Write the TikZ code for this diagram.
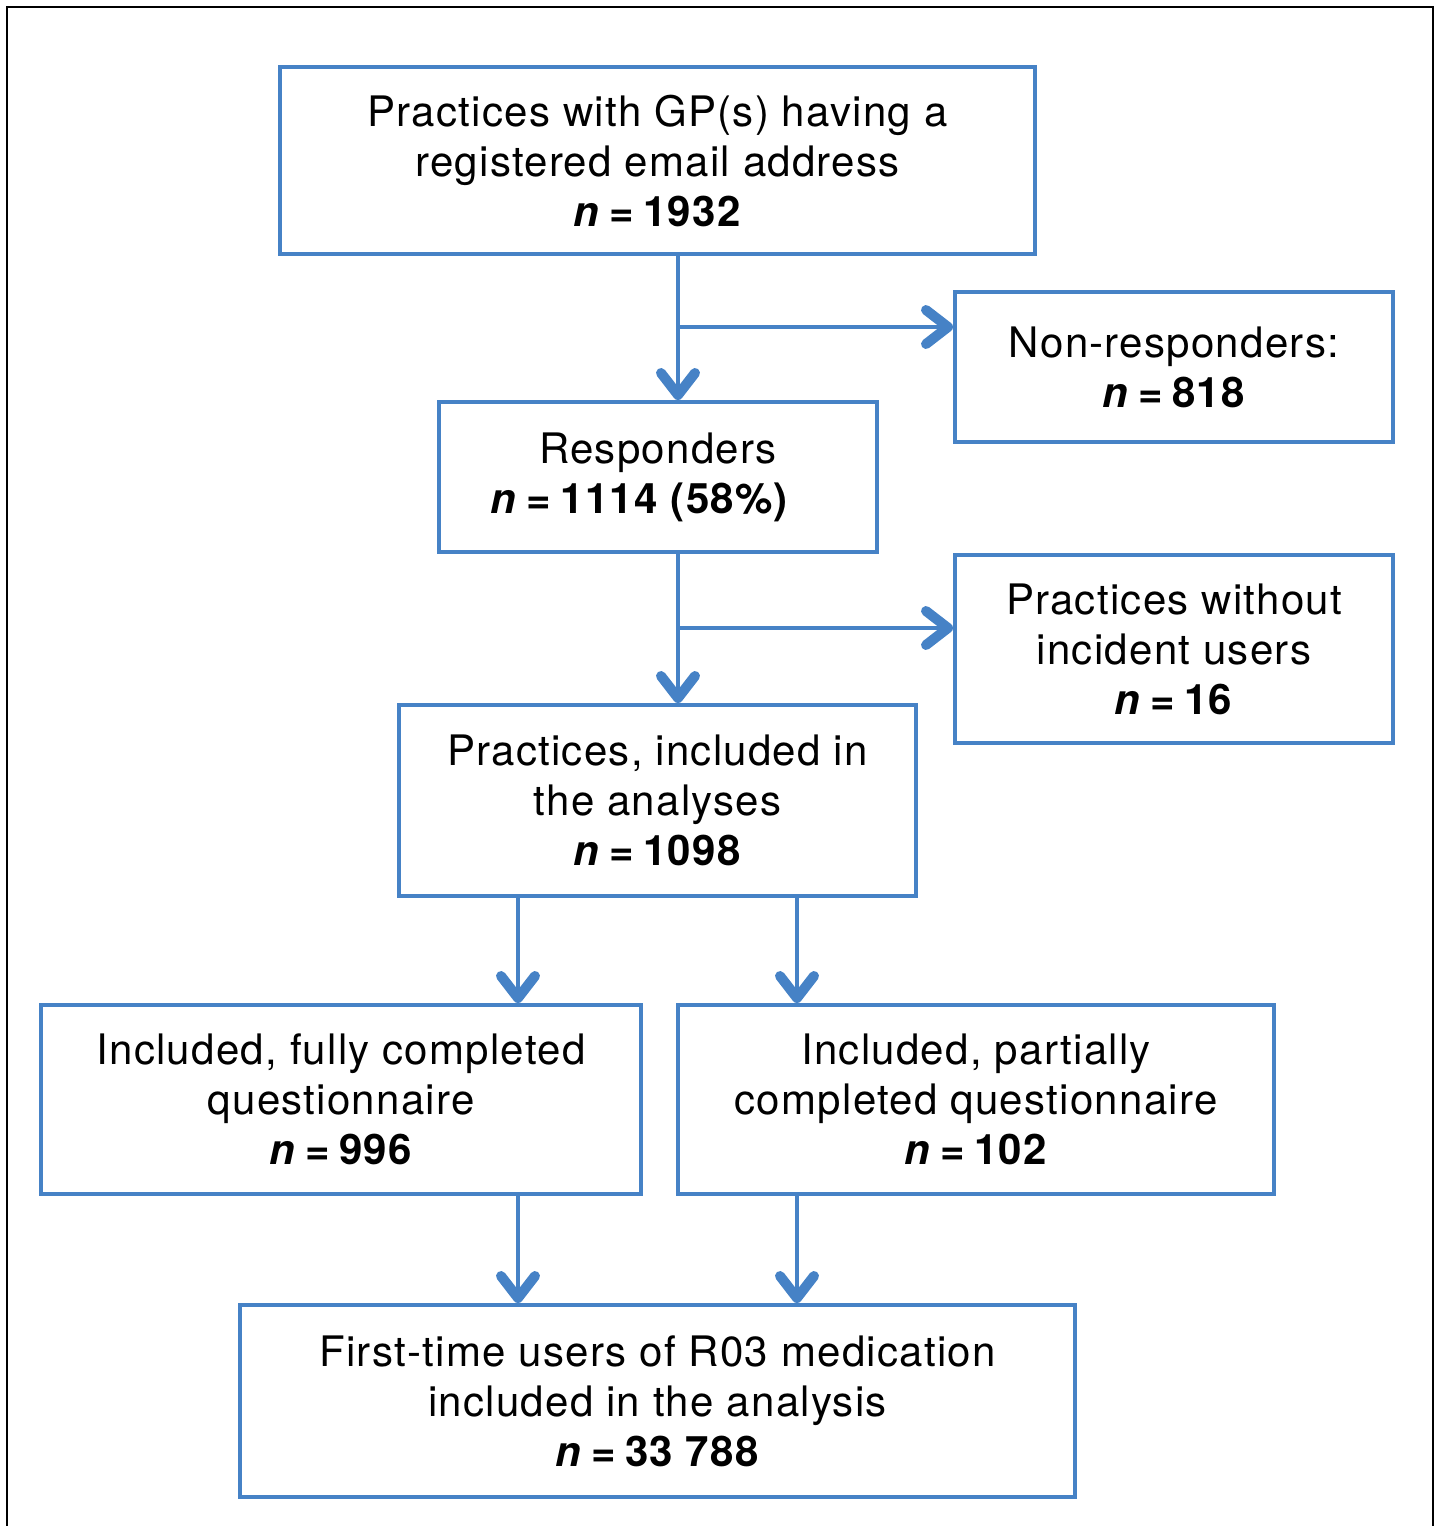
\documentclass[tikz,border=0pt]{standalone}
\usepackage{fontspec}
\setmainfont{TeX Gyre Heros}[LetterSpace=3]
\usetikzlibrary{arrows.meta}
\definecolor{flowblue}{RGB}{70,130,198}
\tikzset{
  box/.style={draw=flowblue, line width=2pt, rectangle, align=center, inner sep=0pt,
    font=\fontsize{21}{25}\selectfont},
  arr/.style={draw=flowblue, line width=2.1pt,
    -{Straight Barb[length=11pt, width=17pt, line width=5pt, round]}},
  frame/.style={draw=black, line width=1pt}
}
\newcommand{\nval}[1]{\textbf{\textit{n}\hspace{0.22em}=\hspace{0.22em}#1}}
\begin{document}
\begin{tikzpicture}[x=0.5pt, y=-0.5pt]
\useasboundingbox (0,0) rectangle (1437,1526);
\draw[frame] (7,1526) -- (7,7) -- (1433,7) -- (1433,1526);

\node[box, minimum width=377.5pt, minimum height=93.5pt] (top) at (657.5,160.5)
  {Practices with GP(s) having a\\registered email address\\\nval{1932}};
\node[box, minimum width=219pt, minimum height=75pt] (nonresp) at (1174,367)
  {Non-responders:\\\nval{818}};
\node[box, minimum width=219pt, minimum height=75pt] (resp) at (658,477)
  {Responders\\\nval{1114 (58\%)}\hspace*{18pt}};
\node[box, minimum width=219pt, minimum height=94pt] (noinc) at (1174,649)
  {Practices without\\incident users\\\nval{16}};
\node[box, minimum width=258.5pt, minimum height=95.5pt] (incl) at (657.5,800.5)
  {Practices, included in\\the analyses\\\nval{1098}};
\node[box, minimum width=300pt, minimum height=94.5pt] (full) at (341,1099.5)
  {Included, fully completed\\questionnaire\\\nval{996}};
\node[box, minimum width=298pt, minimum height=94.5pt] (part) at (976,1099.5)
  {Included, partially\\completed questionnaire\\\nval{102}};
\node[box, minimum width=417.5pt, minimum height=96pt] (first) at (657.5,1401)
  {First-time users of R03 medication\\included in the analysis\\\nval{33 788}};

\coordinate (xa) at (678,0);
\coordinate (xl) at (518,0);
\coordinate (xr) at (797,0);
\coordinate (b1) at (678,327);
\coordinate (b2) at (678,628);

\draw[arr] (top.south -| xa) -- (resp.north -| xa);
\draw[arr] (b1) -- (nonresp.west |- b1);
\draw[arr] (resp.south -| xa) -- (incl.north -| xa);
\draw[arr] (b2) -- (noinc.west |- b2);
\draw[arr] (incl.south -| xl) -- (full.north -| xl);
\draw[arr] (incl.south -| xr) -- (part.north -| xr);
\draw[arr] (full.south -| xl) -- (first.north -| xl);
\draw[arr] (part.south -| xr) -- (first.north -| xr);
\end{tikzpicture}
\end{document}
